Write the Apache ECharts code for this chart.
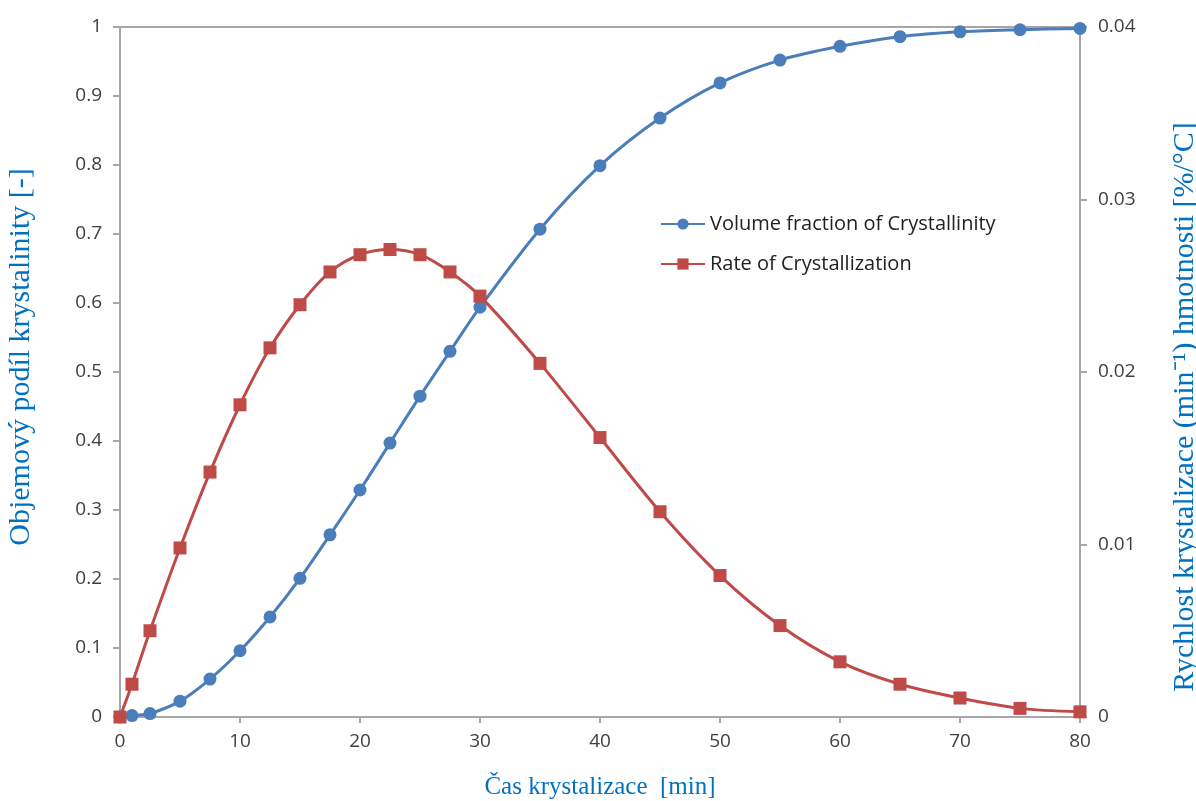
<!DOCTYPE html>
<html lang="cs">
<head>
<meta charset="UTF-8">
<title>Krystalizace</title>
<script src="https://cdn.jsdelivr.net/npm/echarts@6/dist/echarts.min.js"></script>
</head>
<body style="margin:0;background:#fff;">
<div id="main" style="width:1196px;height:801px;"></div>
<script type="text/javascript">
    // cas krystalizace [min]
    var casMin = [0, 1, 2.5, 5, 7.5, 10, 12.5, 15, 17.5, 20, 22.5, 25, 27.5, 30, 35, 40, 45, 50, 55, 60, 65, 70, 75, 80];
    // objemovy podil krystalinity [-]
    var podil = [0, 0.002, 0.005, 0.023, 0.055, 0.096, 0.145, 0.201, 0.264, 0.329, 0.397, 0.465, 0.530, 0.594,
        0.707, 0.799, 0.868, 0.919, 0.952, 0.972, 0.986, 0.993, 0.996, 0.998];
    // rychlost krystalizace
    var rychlost = [0, 0.0019, 0.0050, 0.0098, 0.0142, 0.0181, 0.0214, 0.0239, 0.0258, 0.0268, 0.0271, 0.0268,
        0.0258, 0.0244, 0.0205, 0.0162, 0.0119, 0.0082, 0.0053, 0.0032, 0.0019, 0.0011, 0.0005, 0.0003];

    var nazvy = ['Volume fraction of Crystallinity', 'Rate of Crystallization'];

    function pary(xs, ys) {
        var out = [];
        for (var i = 0; i < xs.length; i++) {
            out.push([xs[i], ys[i]]);
        }
        return out;
    }

    var myChart = echarts.init(document.getElementById('main'));

    var osa = {color: '#a6a6a6', width: 2};
    var popisky = {color: '#404040', fontSize: 19, fontFamily: 'Open Sans'};
    var modra = '#0070c0';

    var option = {
        backgroundColor: '#fff',
        animation: false,
        grid: {
            left: 120, right: 116, top: 27, bottom: 84,
            outerBoundsMode: 'none',
            containLabel: false,
            show: true, borderColor: '#a6a6a6', borderWidth: 2
        },
        legend: {
            orient: 'vertical',
            left: 655,
            top: 209,
            itemGap: 20,
            itemWidth: 44,
            itemHeight: 14,
            textStyle: {color: '#222', fontSize: 20, fontFamily: 'Open Sans'},
            data: nazvy
        },
        xAxis: {
            type: 'value',
            min: 0, max: 80, interval: 10,
            name: 'Čas krystalizace  [min]',
            nameLocation: 'middle',
            nameGap: 58,
            nameTextStyle: {color: modra, fontSize: 25, fontFamily: 'Liberation Serif'},
            axisLine: {lineStyle: osa},
            axisTick: {show: true, inside: false, length: 6, lineStyle: osa},
            axisLabel: Object.assign({margin: 15}, popisky),
            splitLine: {show: false}
        },
        yAxis: [{
            type: 'value',
            min: 0, max: 1, interval: 0.1,
            name: 'Objemový podíl krystalinity [-]',
            nameLocation: 'middle',
            nameGap: 84,
            nameRotate: 90,
            nameTextStyle: {color: modra, fontSize: 30, fontFamily: 'Liberation Serif', padding: [0, 0, 0, 30]},
            axisLine: {show: true, lineStyle: osa},
            axisTick: {show: true, length: 7, lineStyle: osa},
            axisLabel: Object.assign({margin: 18}, popisky),
            splitLine: {show: false}
        }, {
            type: 'value',
            min: 0, max: 0.04, interval: 0.01,
            position: 'right',
            name: 'Rychlost krystalizace (min⁻¹) hmotnosti [%/°C]',
            nameLocation: 'middle',
            nameGap: 90,
            nameRotate: 90,
            nameTextStyle: {color: modra, fontSize: 30, fontFamily: 'Liberation Serif', padding: [0, 70, 0, 0]},
            axisLine: {show: true, lineStyle: osa},
            axisTick: {show: true, length: 7, lineStyle: osa},
            axisLabel: Object.assign({margin: 18}, popisky),
            splitLine: {show: false}
        }],
        series: [{
            name: nazvy[0],
            type: 'line',
            yAxisIndex: 0,
            smooth: 0.3,
            data: pary(casMin, podil),
            symbol: 'circle',
            symbolSize: 13,
            itemStyle: {color: '#4a7ebb'},
            lineStyle: {color: '#4a7ebb', width: 3}
        }, {
            name: nazvy[1],
            type: 'line',
            yAxisIndex: 1,
            smooth: 0.3,
            data: pary(casMin, rychlost),
            symbol: 'rect',
            symbolSize: 13,
            itemStyle: {color: '#be4b48'},
            lineStyle: {color: '#be4b48', width: 3}
        }]
    };

    myChart.setOption(option);
</script>
</body>
</html>
